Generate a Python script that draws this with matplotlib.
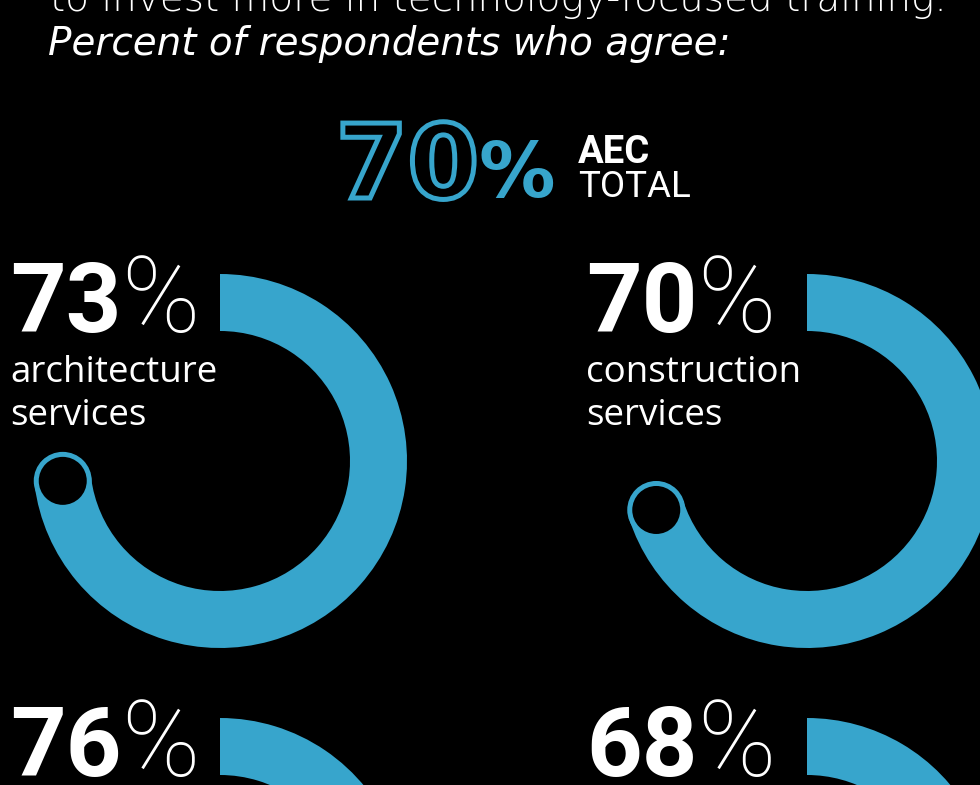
import matplotlib.pyplot as plt
from matplotlib.patches import Wedge, Circle, PathPatch
from matplotlib.textpath import TextPath
from matplotlib.font_manager import FontProperties
import numpy as np

# share of respondents who agree, by sector
total_share = 70
shares = [73, 70, 76, 68]
sectors = ['architecture\nservices', 'construction\nservices', '', '']

title_line = 'to invest more in technology-focused training.'
subtitle = 'Percent of respondents who agree:'

blue = '#37a5cc'
bg = '#000000'
W, H = 980, 785

fig = plt.figure(figsize=(W / 100, H / 100), dpi=100, facecolor=bg)
ax = fig.add_axes([0, 0, 1, 1])
ax.set_xlim(0, W)
ax.set_ylim(0, H)
ax.set_aspect('equal')
ax.axis('off')


def Y(y):
    # layout below is worked out from the top edge
    return H - y


# header
ax.text(50, Y(11), title_line, color='white', fontsize=28, family='DejaVu Sans',
        weight='light', va='baseline', clip_on=False)
ax.text(48, Y(55), subtitle, color='white', fontsize=28, family='DejaVu Sans',
        weight='light', style='oblique', va='baseline')

# overall figure: digits drawn as outlines
big = TextPath((336, Y(198)), str(total_share), size=74 * 100 / 72,
               prop=FontProperties(family='DejaVu Sans', weight='bold'))
ax.add_patch(PathPatch(big, facecolor='none', edgecolor=blue, lw=3.6))
ax.text(478, Y(197), '%', color=blue, fontsize=55, family='DejaVu Sans',
        weight='bold', va='baseline')
ax.text(578, Y(163), 'AEC', color='white', fontsize=27.5, family='Roboto',
        weight='bold', va='baseline')
ax.text(578, Y(197), 'TOTAL', color='white', fontsize=26.5, family='Roboto',
        weight='normal', va='baseline')

# ring geometry
r_out, r_in = 187, 130
r_mid = (r_out + r_in) / 2
col_x = [10, 586]
ring_cx = [220, 807]
row_y = [0, 444]

for i, (share, label) in enumerate(zip(shares, sectors)):
    col, row = i % 2, i // 2
    x0 = col_x[col]
    dy = row_y[row]
    cx, cy = ring_cx[col], Y(461 + dy)

    # big percentage, thin % sign right after the digits
    num = ax.text(x0, Y(332 + dy), str(share), color='white', fontsize=70,
                  family='Roboto', weight='bold', va='baseline')
    ax.annotate('%', xy=(1, Y(332 + dy)), xycoords=(num, 'data'), xytext=(0, 0),
                textcoords='offset points', color='white', fontsize=76,
                family='Roboto', weight='light', va='baseline')

    for k, line in enumerate(label.split('\n')):
        if line:
            ax.text(x0, Y(382 + dy + 43 * k), line, color='white',
                    fontsize=26.5, family='Open Sans', va='baseline')

    # arc runs clockwise from 12 o'clock
    end = 90 - 360 * share / 100
    ax.add_patch(Wedge((cx, cy), r_out, end, 90, width=r_out - r_in,
                       facecolor=blue, edgecolor='none'))
    ex = cx + r_mid * np.cos(np.radians(end))
    ey = cy + r_mid * np.sin(np.radians(end))
    ax.add_patch(Circle((ex, ey), 29, facecolor=blue, edgecolor='none'))
    ax.add_patch(Circle((ex, ey), 24, facecolor=bg, edgecolor='none'))

fig.savefig('out.png', dpi=100, facecolor=bg)
